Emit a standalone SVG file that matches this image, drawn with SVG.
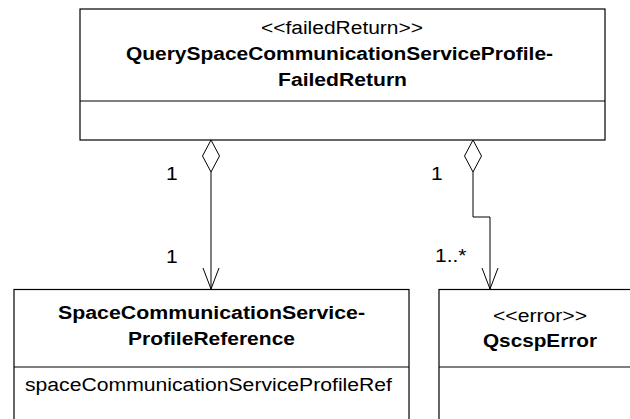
<svg xmlns="http://www.w3.org/2000/svg" width="630" height="419" viewBox="0 0 630 419">
<style>
  .box{fill:#fff;stroke:#000;stroke-width:1.2}
  .div{stroke:#000;stroke-width:1.2;fill:none}
  .t{font-family:"Liberation Sans",Arial,sans-serif;font-size:18px;fill:#000}
  .b{font-weight:bold}
  .m{text-anchor:middle}
  .ln{fill:none;stroke:#000;stroke-width:1}
  .dia{fill:#fff;stroke:#000;stroke-width:1}
</style>
<rect width="630" height="419" fill="#fff"/>
<g id="node-failedReturn">
  <rect class="box" x="80" y="9" width="525" height="131"/>
  <line class="div" x1="80" y1="101" x2="605" y2="101"/>
  <text class="t m" x="342" y="34" textLength="162" lengthAdjust="spacingAndGlyphs">&lt;&lt;failedReturn&gt;&gt;</text>
  <text class="t b m" x="339.5" y="60" textLength="427" lengthAdjust="spacingAndGlyphs">QuerySpaceCommunicationServiceProfile-</text>
  <text class="t b m" x="342.5" y="86" textLength="129" lengthAdjust="spacingAndGlyphs">FailedReturn</text>
</g>
<g id="node-profileReference">
  <rect class="box" x="14" y="289.5" width="395" height="140"/>
  <line class="div" x1="14" y1="367" x2="409" y2="367"/>
  <text class="t b m" x="211.5" y="319" textLength="307" lengthAdjust="spacingAndGlyphs">SpaceCommunicationService-</text>
  <text class="t b m" x="211.5" y="345" textLength="167" lengthAdjust="spacingAndGlyphs">ProfileReference</text>
  <text class="t" x="25" y="391" textLength="367" lengthAdjust="spacingAndGlyphs">spaceCommunicationServiceProfileRef</text>
</g>
<g id="node-qscspError">
  <rect class="box" x="439" y="289.5" width="202" height="140"/>
  <line class="div" x1="439" y1="367" x2="641" y2="367"/>
  <text class="t m" x="540" y="322" textLength="94" lengthAdjust="spacingAndGlyphs">&lt;&lt;error&gt;&gt;</text>
  <text class="t b m" x="540" y="347" textLength="114" lengthAdjust="spacingAndGlyphs">QscspError</text>
</g>
<g id="connectors">
  <g id="conn-ref">
    <line class="ln" x1="211" y1="172" x2="211" y2="289"/>
    <polygon class="dia" points="211,140 202.5,156 211,172 219.5,156"/>
    <polyline class="ln" points="203,268 211,289 219,268"/>
    <text class="t" x="166" y="180" textLength="11.7" lengthAdjust="spacingAndGlyphs">1</text>
    <text class="t" x="166" y="263" textLength="11.7" lengthAdjust="spacingAndGlyphs">1</text>
  </g>
  <g id="conn-error">
    <polyline class="ln" points="473,172 473,217 490,217 490,289"/>
    <polygon class="dia" points="473,140 464.5,156 473,172 481.5,156"/>
    <polyline class="ln" points="482,268 490,289 498,268"/>
    <text class="t" x="431" y="180" textLength="11.7" lengthAdjust="spacingAndGlyphs">1</text>
    <text class="t" x="435" y="262" textLength="31.5" lengthAdjust="spacingAndGlyphs">1..*</text>
  </g>
</g>
</svg>
